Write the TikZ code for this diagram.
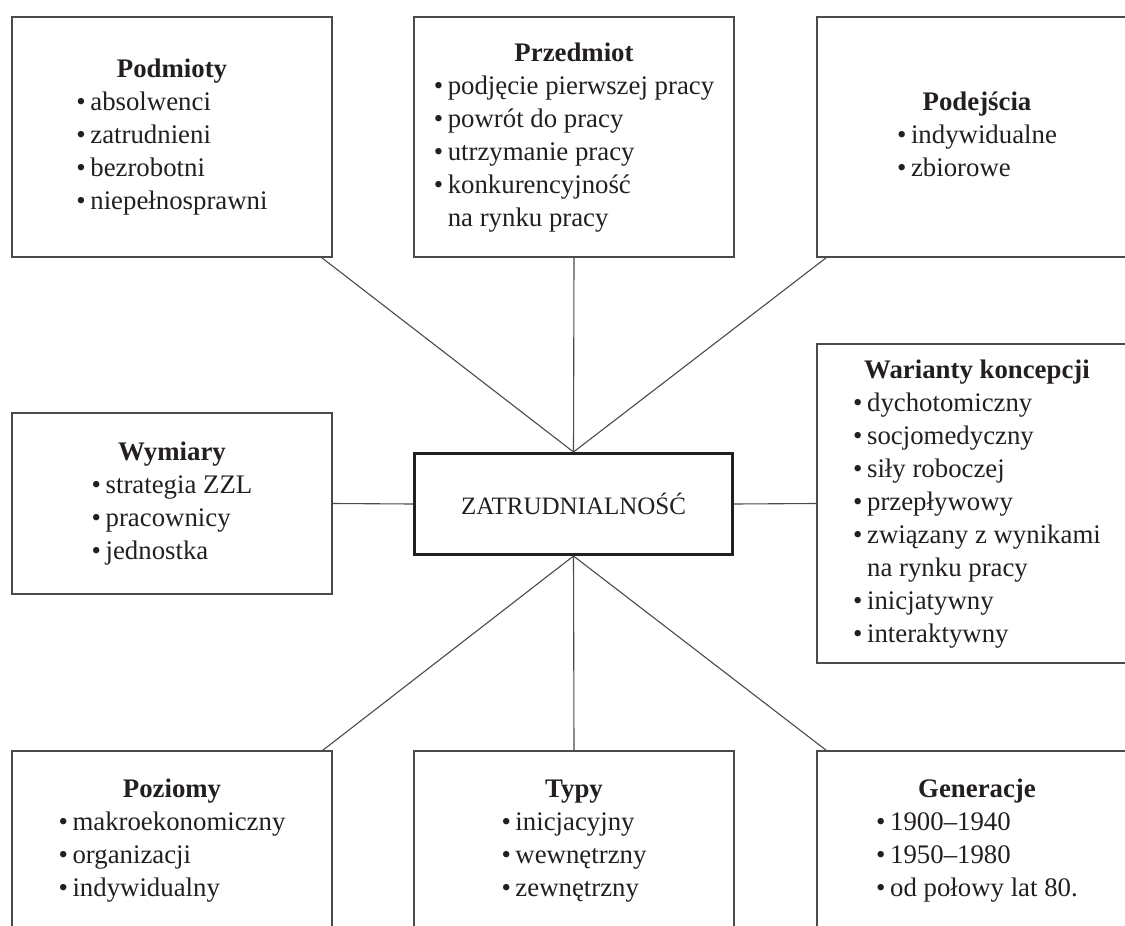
\documentclass[tikz,border=0pt]{standalone}
\usepackage{fontspec}
\setmainfont{Liberation Serif}
\usetikzlibrary{calc}
\definecolor{ink}{HTML}{231F20}
\definecolor{frame}{HTML}{4A4A4A}
\newcommand{\itm}{\textbullet\hspace{0.17em}}
\newcommand{\cont}{\phantom{\textbullet}\hspace{0.17em}}
\tikzset{
  box/.style={draw=frame, line width=1.1pt, inner sep=0pt, minimum width=320pt,
    text=ink, font=\fontsize{26.8}{33}\selectfont, align=center},
  hub/.style={draw=ink, line width=3pt, inner sep=0pt, minimum width=318pt, minimum height=101pt,
    text=ink, font=\fontsize{25}{33}\selectfont},
  link/.style={draw=frame, line width=1.1pt}
}
\newcommand{\blk}[2]{\begin{tabular}{@{}l@{}}\multicolumn{1}{@{}c@{}}{\textbf{#1}}\\#2\end{tabular}}
\begin{document}
\begin{tikzpicture}[x=1pt,y=-1pt]
\useasboundingbox (0,0) rectangle (1125,926);
\clip (0,0) rectangle (1125,926);
\fill[white] (0,0) rectangle (1125,926);
\node[box, minimum height=240pt] (pod) at (172,137) {\blk{Podmioty}{\itm absolwenci\\ \itm zatrudnieni\\ \itm bezrobotni\\ \itm niepełnosprawni}};
\node[box, minimum height=240pt] (prz) at (574,137) {\blk{Przedmiot}{\itm podjęcie pierwszej pracy\\ \itm powrót do pracy\\ \itm utrzymanie pracy\\ \itm konkurencyjność\\ \cont na rynku pracy}};
\node[box, minimum height=240pt] (pdj) at (977,137) {\blk{Podejścia}{\itm indywidualne\\ \itm zbiorowe}};
\node[box, minimum height=181pt] (wym) at (172,503.5) {\blk{Wymiary}{\itm strategia ZZL\\ \itm pracownicy\\ \itm jednostka}};
\node[hub] (ctr) at (573.5,504) {ZATRUDNIALNOŚĆ};
\node[box, minimum height=319pt] (war) at (977,503.5) {\blk{Warianty koncepcji}{\itm dychotomiczny\\ \itm socjomedyczny\\ \itm siły roboczej\\ \itm przepływowy\\ \itm związany z wynikami\\ \cont na rynku pracy\\ \itm inicjatywny\\ \itm interaktywny}};
\node[box, minimum height=178pt] (poz) at (172,840) {\blk{Poziomy}{\itm makroekonomiczny\\ \itm organizacji\\ \itm indywidualny}};
\node[box, minimum height=178pt] (typ) at (574,840) {\blk{Typy}{\itm inicjacyjny\\ \itm wewnętrzny\\ \itm zewnętrzny}};
\node[box, minimum height=178pt] (gen) at (977,840) {\blk{Generacje}{\itm 1900–1940\\ \itm 1950–1980\\ \itm od połowy lat 80.}};
\draw[link] (ctr.north) -- ($(pod.south east)+(-11,0)$);
\draw[link] (ctr.north) -- (prz.south);
\draw[link] (ctr.north) -- ($(pdj.south west)+(10,0)$);
\draw[link] (ctr.west) -- (wym.east);
\draw[link] (ctr.east) -- (war.west);
\draw[link] (ctr.south) -- ($(poz.north east)+(-10,0)$);
\draw[link] (ctr.south) -- (typ.north);
\draw[link] (ctr.south) -- ($(gen.north west)+(10,0)$);
\end{tikzpicture}
\end{document}
